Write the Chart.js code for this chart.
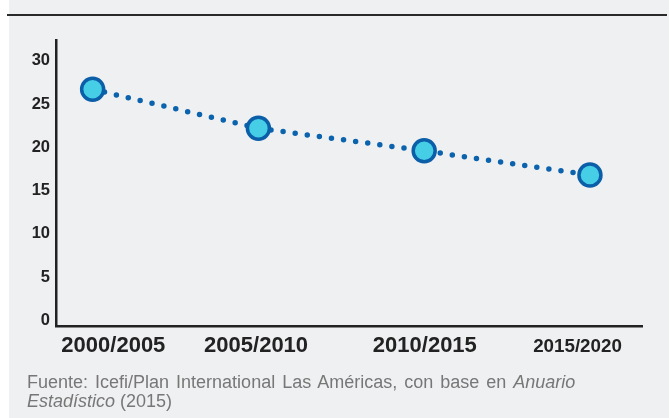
<!DOCTYPE html>
<html><head><meta charset="utf-8">
<script src="https://cdn.jsdelivr.net/npm/chart.js@4"></script>
<style>
html,body{margin:0;padding:0;background:#fff;width:670px;height:418px;overflow:hidden}
#bg{position:absolute;left:9px;top:0;width:660px;height:418px;background:#eff0f2}
#rule{position:absolute;left:7px;top:14px;width:660px;height:2px;background:#2a2a2a}
#wrap{position:absolute;left:0;top:0;width:670px;height:418px}
#src{position:absolute;left:27px;top:372.7px;font:18px "Liberation Sans",Arial,sans-serif;line-height:19px;color:#777;white-space:nowrap}
#src .l1{word-spacing:2px}
</style></head><body>
<div id="bg"></div><div id="rule"></div>
<div id="wrap"><canvas id="c" width="670" height="418"></canvas></div>
<div id="src"><span class="l1">Fuente: Icefi/Plan International Las Américas, con base en <i>Anuario</i></span><br><i>Estadístico</i> (2015)</div>
<script>
const periods = ['2000/2005', '2005/2010', '2010/2015', '2015/2020'];
const values = [26.7, 22.2, 19.6, 16.8];
const yTicks = [0, 5, 10, 15, 20, 25, 30];

const labelNudge = [0.125, -0.014, 0.004, -0.075];
const fam = '"Liberation Sans", Arial, sans-serif';

new Chart(document.getElementById('c'), {
  type: 'line',
  data: {
    datasets: [{
      data: periods.map((p, i) => ({ x: i, y: values[i] })),
      borderColor: '#0b63ae',
      borderWidth: 5.5,
      borderDash: [0, 12.2],
      borderCapStyle: 'round',
      tension: 0,
      fill: false,
      pointRadius: 11,
      pointHoverRadius: 11,
      pointBackgroundColor: '#46cee7',
      pointBorderColor: '#0b5ea8',
      pointBorderWidth: 3.5,
      clip: false
    }]
  },
  options: {
    responsive: false,
    animation: false,
    events: [],
    layout: { padding: { left: 0, right: 28, top: 40, bottom: 52 } },
    plugins: { legend: { display: false }, tooltip: { enabled: false } },
    scales: {
      x: {
        type: 'linear',
        min: -0.221,
        max: 3.314,
        grid: { display: false, drawTicks: false },
        border: { display: true, color: '#222', width: 2.5 },
        afterBuildTicks: s => { s.ticks = periods.map((p, i) => ({ value: i + labelNudge[i] })); },
        afterFit: s => { s.height = 40; },
        ticks: {
          autoSkip: false,
          maxRotation: 0,
          padding: 6.5,
          color: '#222',
          font: c => c.index === 3
            ? { family: fam, weight: 'bold', size: 18.8, lineHeight: 1.52 }
            : { family: fam, weight: 'bold', size: 22, lineHeight: 1.2 },
          callback: (v, i) => periods[i]
        }
      },
      y: {
        min: -0.65,
        max: 32.4,
        grid: { display: false, drawTicks: false },
        border: { display: true, color: '#222', width: 2.5 },
        afterBuildTicks: s => { s.ticks = yTicks.map(v => ({ value: v })); },
        afterFit: s => { s.width = 56; },
        ticks: {
          padding: 6,
          color: '#222',
          font: { family: fam, weight: 'bold', size: 16.5 },
          callback: v => String(v)
        }
      }
    }
  }
});
</script>
</body></html>
